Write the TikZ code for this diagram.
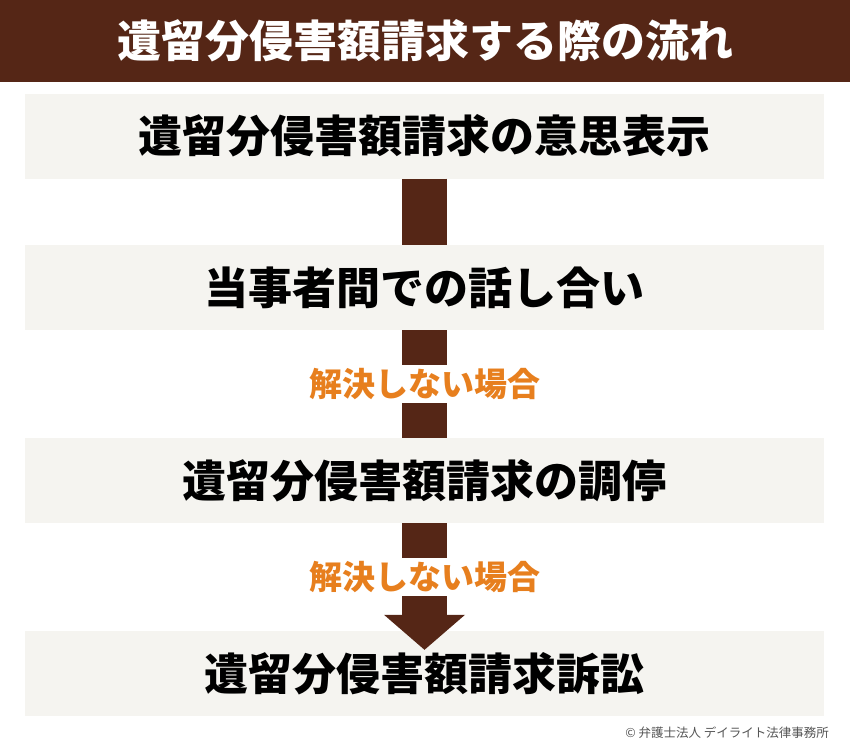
\documentclass[tikz,border=0pt]{standalone}
\usepackage{fontspec}
\newfontfamily\jpfont{Noto Sans CJK JP}
\usetikzlibrary{
	calc,
	arrows.meta}

\definecolor{darkbrown}{RGB}{85,38,22}
\definecolor{boxgray}{RGB}{245,244,240}
\definecolor{condorange}{RGB}{231,127,30}
\definecolor{notegray}{RGB}{85,85,85}

\tikzset{
	headbar/.style={fill=darkbrown, text=white, minimum width=850pt, minimum height=82pt, inner sep=0pt,
		font=\jpfont\bfseries\fontsize{44}{48}\selectfont},
	stepbox/.style={fill=boxgray, minimum width=799pt, minimum height=85pt, inner sep=0pt,
		font=\jpfont\bfseries\fontsize{44}{48}\selectfont},
	condlabel/.style={fill=white, text=condorange, minimum height=38pt, inner sep=0pt,
		font=\jpfont\bfseries\fontsize{33}{36}\selectfont},
	flowbar/.style={draw=darkbrown, line width=45pt}}

\begin{document}
\begin{tikzpicture}[x=1pt,y=-1pt]
      \useasboundingbox (0,0) rectangle (850,752);

      \node[headbar] (H0) at (425,41) {遺留分侵害額請求する際の流れ};

      \node[stepbox] (S1) at (424.5,136) {遺留分侵害額請求の意思表示};
      \node[stepbox] (S2) at (424.5,287.5) {当事者間での話し合い};
      \node[stepbox] (S3) at (424.5,480.5) {遺留分侵害額請求の調停};
      \node[stepbox] (S4) at (424.5,673.5) {遺留分侵害額請求訴訟};

      \draw [flowbar] (S1)     to (S2);
      \draw [flowbar] (S2)     to (S3);
      \draw [flowbar, -{Triangle[width=81pt,length=35pt,line width=0pt]}] (S3) to ([yshift=-19pt]S4.north);

      \node[condlabel] (C2) at ($(S2.south)!0.5!(S3.north)$) {解決しない場合};
      \node[condlabel] (C3) at ($(S3.south)!0.5!(S4.north)$) {解決しない場合};

      \node[anchor=east, text=notegray, inner sep=0pt, font=\jpfont\fontsize{12.5}{14}\selectfont] (CR) at (829,733) {© 弁護士法人 デイライト法律事務所};
  \end{tikzpicture}
\end{document}
